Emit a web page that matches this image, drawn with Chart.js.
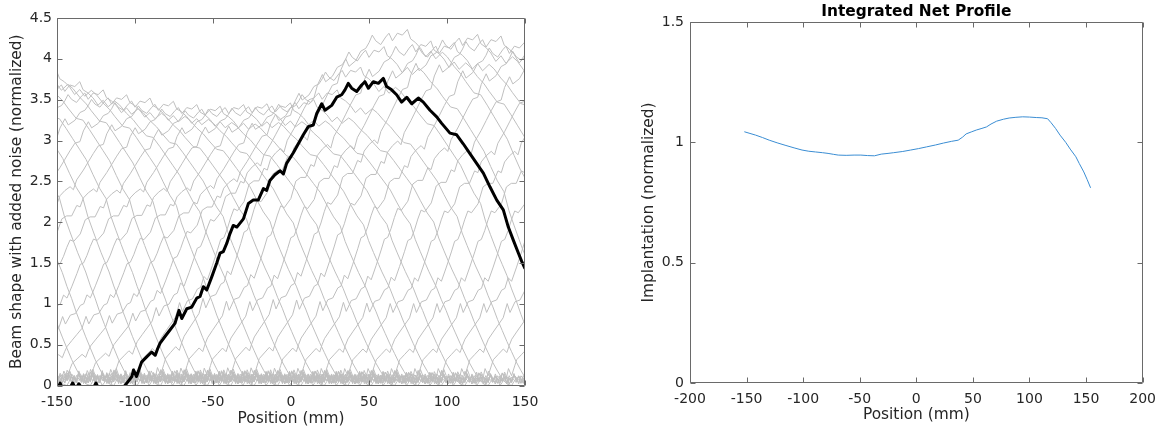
<!DOCTYPE html>
<html>
<head>
<meta charset="utf-8">
<script src="https://cdn.jsdelivr.net/npm/chart.js@4.4.1/dist/chart.umd.min.js"></script>
<style>
  html, body { margin: 0; padding: 0; background: #fff; }
  body { width: 1164px; height: 429px; position: relative; overflow: hidden; }
  .panel { position: absolute; top: 0; height: 429px; }
  #left { left: 0; width: 560px; }
  #right { left: 600px; width: 564px; }
</style>
</head>
<body>
<div class="panel" id="left"><canvas id="beamChart"></canvas></div>
<div class="panel" id="right"><canvas id="netChart"></canvas></div>
<script>
// highlighted beam shape (black), position in mm / normalized value
var blackLeadPos = [-150, -148, -146, -143, -140, -138, -136, -133, -130, -127, -125, -123, -120, -116, -112, -109];
var blackLeadVal = [-0.06, 0.03, -0.05, -0.08, 0.03, -0.04, 0.02, -0.06, -0.09, -0.04, 0.03, -0.05, -0.08, -0.05, -0.07, -0.04];

var blackPos = [-106.4, -104, -102, -101, -99, -97, -95.7, -92.5, -89.3, -87, -85.5, -83.9, -80.8, -77.6, -74.4,
  -71.8, -70, -66.8, -63.6, -60.4, -58.3, -56.2, -54, -50.8, -47.6, -45.5, -43.4, -41.2, -39.1, -37, -34.7,
  -30.5, -27.3, -24.2, -21, -17.7, -15.6, -13.5, -10.3, -7, -4.9, -2.8, 1.5, 4.7, 7.9, 11.1, 14.3, 16.5,
  19.7, 21.8, 26.1, 29.3, 32.5, 34.6, 36.7, 38.9, 42.1, 45.3, 47.4, 49.6, 52.8, 56, 59.2, 61.3, 64.5, 67.7,
  70.9, 74.2, 77.4, 81.6, 84.8, 89.1, 93.4, 96.6, 101.9, 106.2, 110.4, 114.7, 119, 123.3, 127.6, 131.9,
  136.1, 139.3, 142.5, 145.8, 147.9, 150, 153, 156, 159, 162, 165, 168, 171, 174, 177, 180, 183, 186];
var blackVal = [0, 0.06, 0.11, 0.19, 0.11, 0.22, 0.29, 0.35, 0.41, 0.37, 0.45, 0.52, 0.60, 0.68, 0.76,
  0.92, 0.82, 0.94, 0.96, 1.07, 1.09, 1.21, 1.17, 1.33, 1.50, 1.62, 1.64, 1.74, 1.86, 1.96, 1.94,
  2.04, 2.23, 2.27, 2.27, 2.41, 2.39, 2.51, 2.58, 2.63, 2.59, 2.72, 2.85, 2.96, 3.07, 3.17, 3.19, 3.33,
  3.45, 3.37, 3.43, 3.53, 3.56, 3.62, 3.70, 3.64, 3.60, 3.68, 3.72, 3.64, 3.72, 3.70, 3.76, 3.66, 3.62, 3.56,
  3.47, 3.53, 3.45, 3.52, 3.47, 3.37, 3.29, 3.21, 3.09, 3.07, 2.96, 2.84, 2.72, 2.60, 2.43, 2.27,
  2.15, 1.94, 1.78, 1.62, 1.52, 1.43, 1.30, 1.14, 1.00, 0.84, 0.70, 0.56, 0.43, 0.30, 0.19, 0.09, 0.02, 0];

// baseline noise on both sides of each grey beam (mm away from the beam edge)
var tailOffset = [1.5, 3, 4.5, 6, 7.5, 9, 10.5, 12, 13.5, 15, 16.5, 18, 19.5, 21, 22.5, 24, 25.5, 27, 28.5, 30,
  31.5, 33, 34.5, 36, 37.5, 39, 40.5, 42, 43.5, 45, 46.5, 48, 49.5, 51, 52.5, 54, 55.5, 57, 58.5, 60,
  61.5, 63, 64.5, 66, 67.5, 69, 70.5, 72, 73.5, 75, 76.5, 78, 79.5, 81, 82.5, 84, 85.5, 87, 88.5, 90];
var tailNoise = [0.06, 0.13, 0.04, 0.10, 0.16, 0.03, 0.09, 0.12, 0.05, 0.15, 0.07, 0.02, 0.11, 0.18, 0.06, 0.09,
  0.13, 0.04, 0.08, 0.14, 0.05, 0.10, 0.03, 0.12, 0.17, 0.06, 0.09, 0.02, 0.11, 0.14, 0.04, 0.08, 0.12, 0.05,
  0.10, 0.03, 0.09, 0.13, 0.04, 0.07, 0.11, 0.02, 0.08, 0.15, 0.05, 0.10, 0.03, 0.12, 0.07, 0.16, 0.04, 0.09,
  0.02, 0.11, 0.06, 0.13, 0.03, 0.08, 0.10, 0.05];

// grey scans: left foot of each beam (mm) and its peak height
var scanFoot = [-436, -421, -406, -391, -376, -361, -346, -331, -316, -301, -286, -271, -256, -241, -226, -211,
  -196, -181, -166, -151, -136, -121, -106, -91, -76, -61, -46, -31, -16, -1, 14, 29, 44, 59, 74, 89, 104, 119, 134];
var scanPeak = [3.95, 3.98, 4.00, 4.02, 4.02, 4.00, 3.98, 3.94, 3.86, 3.72, 3.62, 3.56, 3.52, 3.48, 3.44, 3.42,
  3.44, 3.45, 3.46, 3.50, 3.62, 3.90, 4.15, 4.36, 4.22, 4.20, 4.30, 4.28, 4.20, 4.16, 4.12, 4.10, 4.10, 4.10,
  4.10, 4.10, 4.10, 4.10, 4.10];

// integrated net profile
var netPos = [-152, -147, -142, -136, -130, -123, -116, -108, -101, -95, -89, -83, -78, -73, -69, -62, -55, -49,
  -43, -37, -31, -25, -20, -12, -5, 2, 9, 17, 24, 31, 37, 41, 44, 49, 53, 58, 62, 66, 71, 77, 82, 88, 94, 100,
  106, 111, 116, 119, 123, 127, 132, 136, 141, 144, 148, 151, 154];
var netVal = [1.044, 1.037, 1.030, 1.020, 1.009, 0.998, 0.988, 0.977, 0.968, 0.963, 0.960, 0.957, 0.954, 0.950,
  0.947, 0.946, 0.947, 0.947, 0.945, 0.944, 0.951, 0.954, 0.957, 0.962, 0.968, 0.974, 0.981, 0.989, 0.997,
  1.004, 1.009, 1.022, 1.035, 1.044, 1.051, 1.058, 1.064, 1.076, 1.088, 1.096, 1.101, 1.104, 1.106, 1.105,
  1.103, 1.102, 1.098, 1.082, 1.058, 1.030, 1.000, 0.972, 0.940, 0.912, 0.877, 0.845, 0.811];

var leftXTicks = [-150, -100, -50, 0, 50, 100, 150];
var leftYTicks = [0, 0.5, 1, 1.5, 2, 2.5, 3, 3.5, 4, 4.5];
var rightXTicks = [-200, -150, -100, -50, 0, 50, 100, 150, 200];
var rightYTicks = [0, 0.5, 1, 1.5];

Chart.defaults.font.family = "'DejaVu Sans', sans-serif";
Chart.defaults.font.size = 14;
Chart.defaults.color = '#262626';

// matlab style box with inward ticks on all four sides
var boxTicks = {
    id: 'boxTicks',
    afterDatasetsDraw: function(chart, args, opts) {
        var ctx = chart.ctx, a = chart.chartArea;
        var xs = chart.scales.x, ys = chart.scales.y;
        var L = Math.round(a.left) + 0.5, R = Math.round(a.right) - 0.5;
        var T = Math.round(a.top) + 0.5, B = Math.round(a.bottom) - 0.5;
        ctx.save();
        ctx.strokeStyle = '#6a6a6a';
        ctx.lineWidth = 1;
        ctx.beginPath();
        ctx.rect(L, T, R - L, B - T);
        xs.ticks.forEach(function(t) {
            var px = Math.round(xs.getPixelForValue(t.value)) + 0.5;
            ctx.moveTo(px, B); ctx.lineTo(px, B - 5);
            ctx.moveTo(px, T); ctx.lineTo(px, T + 5);
        });
        ys.ticks.forEach(function(t) {
            var py = Math.round(ys.getPixelForValue(t.value)) + 0.5;
            ctx.moveTo(L, py); ctx.lineTo(L + 5, py);
            ctx.moveTo(R, py); ctx.lineTo(R - 5, py);
        });
        ctx.stroke();
        if (opts && opts.title) {
            ctx.fillStyle = '#000';
            ctx.font = "bold 15.4px 'DejaVu Sans', sans-serif";
            ctx.textAlign = 'center';
            ctx.textBaseline = 'middle';
            ctx.fillText(opts.title, (a.left + a.right) / 2, 12);
        }
        ctx.restore();
    }
};

function axisOpts(min, max, ticks, title, size, titlePad, tickPad) {
    return {
        type: 'linear',
        min: min,
        max: max,
        afterBuildTicks: function(s) { s.ticks = ticks.map(function(v) { return {value: v}; }); },
        afterFit: function(s) { if (s.isHorizontal()) { s.height = size; } else { s.width = size; } },
        grid: { display: false, drawTicks: false },
        border: { display: false },
        ticks: {
            padding: tickPad, autoSkip: false, maxRotation: 0, color: '#262626',
            callback: function(v) { return String(v); }
        },
        title: { display: true, text: title, color: '#262626', padding: titlePad, font: { size: 15.4 } }
    };
}

document.addEventListener("DOMContentLoaded", function() {
    var scale = Math.max.apply(null, blackVal);
    var datasets = [];

    var blackPts = [];
    blackLeadPos.forEach(function(p, i) { blackPts.push({x: p, y: blackLeadVal[i]}); });
    blackPos.forEach(function(p, i) { blackPts.push({x: p, y: blackVal[i]}); });
    datasets.push({
        data: blackPts,
        borderColor: '#000',
        borderWidth: 3,
        borderJoinStyle: 'round',
        pointRadius: 0,
        order: 0,
        clip: 0
    });

    var foot = blackPos[0], end = blackPos[blackPos.length - 1];
    scanFoot.forEach(function(f, k) {
        var s = scanPeak[k] / scale;
        var shift = f - foot;
        var pts = [];
        for (var j = tailOffset.length - 1; j >= 0; j--) {
            pts.push({x: f - tailOffset[j], y: tailNoise[j] * s});
        }
        blackPos.forEach(function(p, i) { pts.push({x: p + shift, y: blackVal[i] * s}); });
        tailOffset.forEach(function(o, j) {
            pts.push({x: end + shift + o, y: tailNoise[tailNoise.length - 1 - j] * s});
        });
        datasets.push({
            data: pts,
            borderColor: 'rgb(191,191,191)',
            borderWidth: 1,
            pointRadius: 0,
            order: 1,
            clip: 0
        });
    });

    var ctx = document.getElementById('beamChart').getContext('2d');
    var beamChart = new Chart(ctx, {
        type: 'line',
        data: { datasets: datasets },
        options: {
            responsive: true,
            maintainAspectRatio: false,
            devicePixelRatio: 1,
            animation: false,
            layout: { padding: { top: 18, right: 35, left: 0, bottom: 0 } },
            plugins: { legend: { display: false }, tooltip: { enabled: false }, boxTicks: {} },
            elements: { line: { tension: 0 } },
            scales: {
                x: axisOpts(-150, 150, leftXTicks, 'Position (mm)', 43.5, { top: 0, bottom: 1 }, 8),
                y: axisOpts(0, 4.5, leftYTicks, 'Beam shape with added noise (normalized)', 57, { top: 8, bottom: 0 }, 5)
            }
        },
        plugins: [boxTicks]
    });

    var netPts = netPos.map(function(p, i) { return {x: p, y: netVal[i]}; });
    var ctx2 = document.getElementById('netChart').getContext('2d');
    var netChart = new Chart(ctx2, {
        type: 'line',
        data: {
            datasets: [{
                data: netPts,
                borderColor: '#3a8dd3',
                borderWidth: 1,
                pointRadius: 0,
                clip: 0
            }]
        },
        options: {
            responsive: true,
            maintainAspectRatio: false,
            devicePixelRatio: 1,
            animation: false,
            layout: { padding: { top: 22, right: 15, left: 0, bottom: 0 } },
            plugins: { legend: { display: false }, tooltip: { enabled: false }, boxTicks: { title: 'Integrated Net Profile' } },
            elements: { line: { tension: 0 } },
            scales: {
                x: axisOpts(-200, 200, rightXTicks, 'Position (mm)', 46, { top: 0, bottom: 5 }, 8),
                y: axisOpts(0, 1.5, rightYTicks, 'Implantation (normalized)', 90, { top: 40, bottom: 0 }, 6)
            }
        },
        plugins: [boxTicks]
    });
});
</script>
</body>
</html>
